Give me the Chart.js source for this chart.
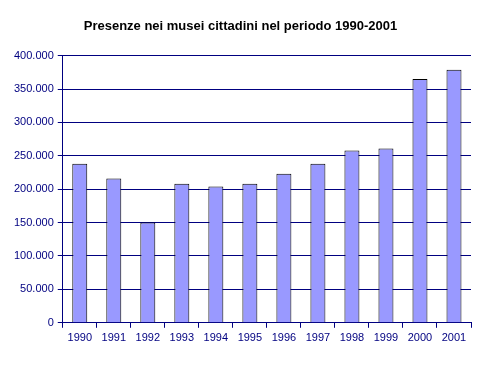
<!DOCTYPE html>
<html lang="it">
<head>
    <meta charset="UTF-8">
    <title>Presenze nei musei</title>
    <style>
        body { margin: 0; background: #fff; }
        #wrap { width: 482px; height: 366px; }
    </style>
</head>
<body>
    <div id="wrap"><canvas id="chart" width="482" height="366"></canvas></div>

    <script src="https://cdn.jsdelivr.net/npm/chart.js"></script>
    <script>
        // dati
        const anni = ['1990', '1991', '1992', '1993', '1994', '1995', '1996', '1997', '1998', '1999', '2000', '2001'];
        const presenze = [238000, 216000, 150000, 208000, 204000, 208000, 223000, 238000, 258000, 261000, 365000, 379000];
        const yMax = 400000;
        const yStep = 50000;

        const blu = '#000080';

        function formatIt(v) {
            return v.toString().replace(/\B(?=(\d{3})+(?!\d))/g, '.');
        }

        new Chart(document.getElementById('chart'), {
            type: 'bar',
            data: {
                labels: anni,
                datasets: [{
                    data: presenze,
                    backgroundColor: '#9999FF',
                    borderColor: '#000000',
                    borderWidth: 1,
                    categoryPercentage: 1,
                    barPercentage: 0.44
                }]
            },
            options: {
                responsive: false,
                animation: false,
                layout: { padding: { left: 10, right: 11, top: 4, bottom: 17 } },
                plugins: {
                    legend: { display: false },
                    tooltip: { enabled: false },
                    title: {
                        display: true,
                        text: 'Presenze nei musei cittadini nel periodo 1990-2001',
                        color: '#000',
                        font: { family: 'Liberation Sans', size: 13, weight: 'bold' },
                        padding: { top: 15, bottom: 21 }
                    }
                },
                scales: {
                    x: {
                        grid: { display: true, drawOnChartArea: false, color: blu, tickLength: 5, offset: true },
                        border: { color: blu, width: 1 },
                        ticks: { color: blu, font: { family: 'Liberation Sans', size: 11 }, padding: 4, maxRotation: 0 }
                    },
                    y: {
                        min: 0,
                        max: yMax,
                        ticks: {
                            stepSize: yStep,
                            color: blu,
                            font: { family: 'Liberation Sans', size: 11 },
                            padding: 4,
                            callback: v => formatIt(v)
                        },
                        grid: { color: blu, tickLength: 5 },
                        border: { color: blu, width: 1 }
                    }
                }
            }
        });
    </script>
</body>
</html>
